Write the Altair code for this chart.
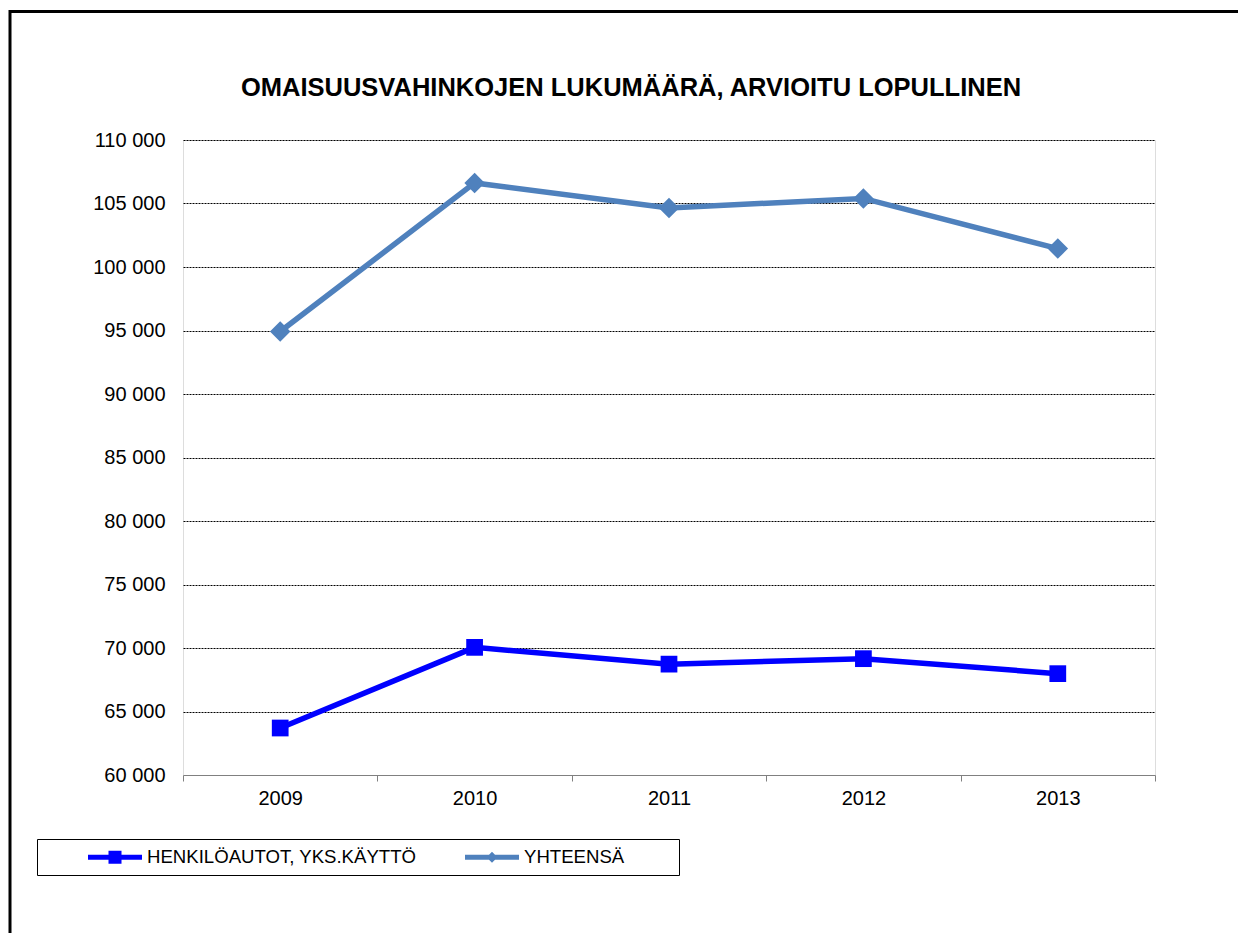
import altair as alt
import pandas as pd

years = ["2009", "2010", "2011", "2012", "2013"]
henkiloautot = [63700, 70050, 68730, 69160, 67980]
yhteensa = [94920, 106620, 104640, 105400, 101450]
series_names = ["HENKILÖAUTOT, YKS.KÄYTTÖ", "YHTEENSÄ"]
series_colors = ["#0000FF", "#4F81BD"]
y_ticks = list(range(60000, 110001, 5000))

rows = []
for y, v in zip(years, henkiloautot):
    rows.append({"vuosi": y, "arvo": v, "sarja": series_names[0]})
for y, v in zip(years, yhteensa):
    rows.append({"vuosi": y, "arvo": v, "sarja": series_names[1]})
df = pd.DataFrame(rows)

FONT = "Liberation Sans"
NBSP = "\u00a0"
ZW = "\u200b"

# legend symbols: line stub with marker (unit = 10 px for symbolSize 400)
sq_path = "M-2.7,-0.25L2.7,-0.25L2.7,0.25L-2.7,0.25Z M-0.65,-0.65L0.65,-0.65L0.65,0.65L-0.65,0.65Z"
dm_path = "M-2.7,-0.25L2.7,-0.25L2.7,0.25L-2.7,0.25Z M0,-0.55L0.55,0L0,0.55L-0.55,0Z"
label_expr = "datum.label == '%s' ? datum.label + '%s' : datum.label" % (
    series_names[1], NBSP * 9 + ZW)

x_enc = alt.X(
    "vuosi:O",
    scale=alt.Scale(type="band", paddingInner=0, paddingOuter=0),
    bandPosition=0.5,
    axis=alt.Axis(
        title=None, labelAngle=0, tickBand="extent", grid=False,
        domainColor="#808080", tickColor="#808080", tickSize=6,
        labelFontSize=20, labelFont=FONT, labelColor="black", labelPadding=7,
    ),
)
y_enc = alt.Y(
    "arvo:Q",
    scale=alt.Scale(domain=[60000, 110000], nice=False, zero=False),
    axis=alt.Axis(
        title=None, values=y_ticks, domain=False, ticks=False,
        labelExpr="floor(datum.value/1000) + ' 000'",
        labelFontSize=20, labelFont=FONT, labelColor="black", labelPadding=18,
        grid=True, gridColor="#000000", gridDash=[2, 1], gridWidth=1,
        gridOpacity={"condition": {"test": "datum.value == 60000", "value": 0}, "value": 1},
    ),
)
legend = alt.Legend(
    title=ZW + NBSP * 7 + ZW, titleOrient="left", titleFontSize=18, titlePadding=7,
    orient="none", legendX=-146, legendY=699, direction="horizontal",
    strokeColor="black", fillColor="white", padding=8,
    labelFontSize=18.6, labelFont=FONT, labelColor="black", labelLimit=0,
    labelOffset=22, symbolOffset=17, columnPadding=48,
    symbolSize=400, symbolStrokeWidth=0,
    symbolOpacity=1, labelExpr=label_expr,
)
color_scale = alt.Scale(domain=series_names, range=series_colors)
color_enc = alt.Color("sarja:N", scale=color_scale, legend=legend)

lines = alt.Chart(df).mark_line(strokeWidth=5.5).encode(x=x_enc, y=y_enc, color=color_enc)
pts_sq = alt.Chart(df).transform_filter(alt.datum.sarja == series_names[0]).mark_point(
    filled=True, opacity=1, shape="square", size=280
).encode(x=x_enc, y=y_enc, color=color_enc)
pts_dm = alt.Chart(df).transform_filter(alt.datum.sarja == series_names[1]).mark_point(
    filled=True, opacity=1, shape="diamond", size=420
).encode(x=x_enc, y=y_enc, color=color_enc)
legend_layer = alt.Chart(df).mark_point(filled=True, opacity=0).encode(
    x=x_enc, y=y_enc, color=color_enc,
    shape=alt.Shape("sarja:N", scale=alt.Scale(domain=series_names, range=[sq_path, dm_path]), legend=legend),
)
frame = alt.Chart(alt.Data(values=[{}])).mark_rect(fillOpacity=0, stroke="black", strokeWidth=3).encode(
    x=alt.value(-173), x2=alt.value(1200), y=alt.value(-128.5), y2=alt.value(1000)
)

chart = alt.layer(frame, lines, pts_sq, pts_dm, legend_layer).properties(
    width=972, height=635,
    autosize=alt.AutoSizeParams(type="none"),
    padding={"left": 175, "top": 132, "right": 83, "bottom": 158},
    title=alt.TitleParams(
        "OMAISUUSVAHINKOJEN LUKUMÄÄRÄ, ARVIOITU LOPULLINEN",
        font=FONT, fontSize=25.5, fontWeight="bold", color="black",
        anchor="middle", frame="group", baseline="alphabetic", offset=43, dx=-38, dy=154,
    ),
).configure_view(stroke=None).configure(background="white")

chart.save("out.html", embed_options={"renderer": "svg", "actions": False})
